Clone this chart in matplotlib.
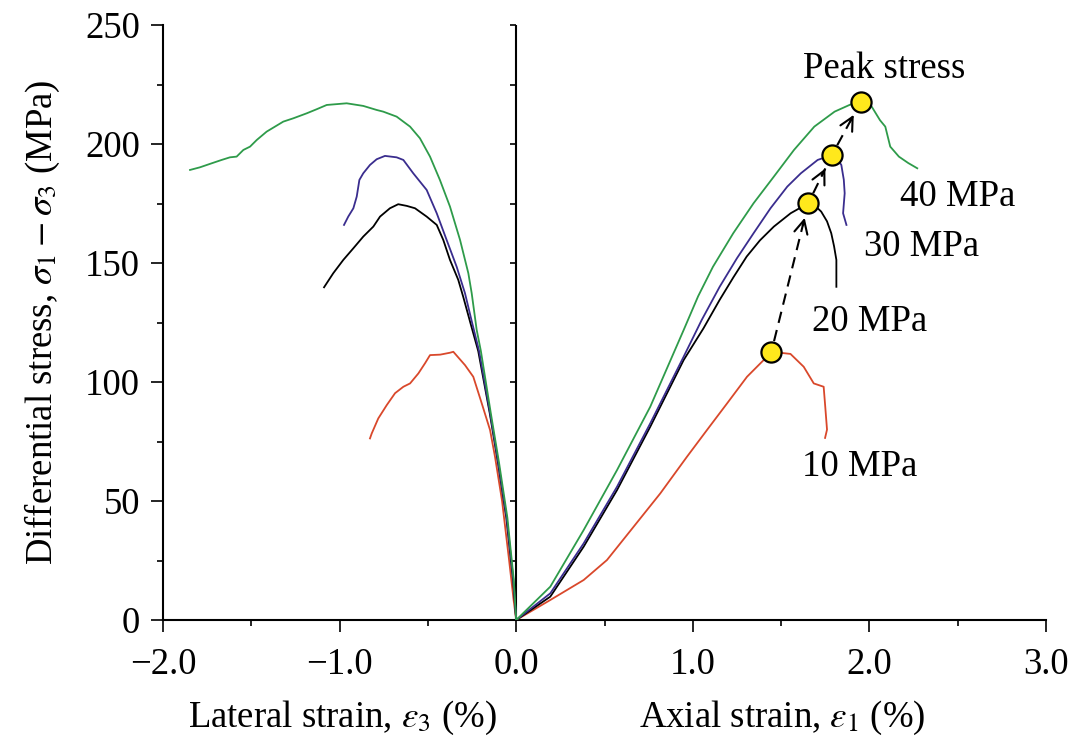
import numpy as np
import matplotlib
matplotlib.use("Agg")
import matplotlib.pyplot as plt

plt.rcParams['font.family'] = ['Liberation Serif', 'DejaVu Serif']
plt.rcParams['mathtext.fontset'] = 'stix'

# ---------------- data (strain %, differential stress MPa) ----------------
# Lateral strain branch (negative strains)
lat_10_x = [0, -0.014, -0.04, -0.08, -0.120, -0.148, -0.195, -0.243, -0.290, -0.356, -0.375, -0.430, -0.488,
            -0.516, -0.554, -0.601, -0.639, -0.686, -0.733, -0.781, -0.818, -0.828]
lat_10_y = [0, 8, 25, 50, 68.6, 79.8, 91.0, 102.2, 107.1, 112.7, 112.3, 111.5, 111.3,
            107.9, 103.6, 99.4, 98.0, 95.3, 90.3, 84.7, 78.4, 76.3]

lat_20_x = [0, -0.018, -0.056, -0.103, -0.150, -0.215, -0.260, -0.300, -0.328, -0.375, -0.413, -0.450, -0.507,
            -0.573, -0.620, -0.668, -0.715, -0.771, -0.809, -0.866, -0.922, -0.979, -1.036, -1.088]
lat_20_y = [0, 17, 43, 66, 87, 113, 125, 135.8, 142.9, 151.3, 159.7, 166.0, 169.5,
            173.0, 174.0, 174.7, 173.0, 169.5, 165.3, 161.1, 156.2, 151.3, 145.7, 139.8]

lat_30_x = [0, -0.016, -0.054, -0.101, -0.148, -0.210, -0.250, -0.290, -0.337, -0.394, -0.450, -0.507, -0.583,
            -0.639, -0.677, -0.743, -0.790, -0.828, -0.866, -0.888, -0.903, -0.922, -0.951, -0.975]
lat_30_y = [0, 17, 43, 66, 87, 113, 125, 137.3, 148.4, 159.7, 170.9, 180.7, 187.7,
            193.3, 194.4, 195.0, 193.6, 191.2, 187.7, 184.9, 177.9, 173.0, 169.5, 166.0]

lat_40_x = [0, -0.014, -0.050, -0.097, -0.144, -0.200, -0.224, -0.252, -0.271, -0.318, -0.375, -0.432, -0.488,
            -0.545, -0.601, -0.677, -0.753, -0.790, -0.866, -0.960, -1.073, -1.130, -1.186, -1.262, -1.319,
            -1.366, -1.413, -1.469, -1.507, -1.545, -1.583, -1.621, -1.668, -1.724, -1.791, -1.847]
lat_40_y = [0, 17, 43, 66, 87, 113, 122, 137.3, 145.7, 159.7, 173.7, 184.9, 194.7,
            202.4, 207.3, 211.5, 213.6, 214.3, 216.0, 217.1, 216.4, 214.6, 212.9, 210.8, 209.4,
            207.3, 205.2, 201.7, 198.9, 197.5, 194.7, 194.4, 193.3, 191.9, 190.2, 189.1]

# Axial strain branch (positive strains)
ax_10_x = [0, 0.193, 0.382, 0.514, 0.665, 0.816, 0.967, 1.080, 1.194, 1.307, 1.401, 1.445,
           1.553, 1.628, 1.685, 1.741, 1.750, 1.760, 1.749]
ax_10_y = [0, 8.4, 16.8, 25.2, 39.2, 53.2, 68.6, 79.8, 91.0, 102.2, 109.2, 112.7,
           111.8, 106.4, 99.4, 98.0, 89.6, 80.0, 76.5]

ax_20_x = [0, 0.193, 0.382, 0.571, 0.759, 0.948, 1.060, 1.152, 1.230, 1.305, 1.380, 1.459, 1.554, 1.654,
           1.700, 1.727, 1.760, 1.784, 1.800, 1.813, 1.813]
ax_20_y = [0, 9.8, 30.8, 54.6, 81.2, 109.2, 122.5, 134.5, 144.0, 152.7, 159.5, 165.3, 170.9, 175.1,
           173.5, 171.6, 167.5, 162.5, 157.0, 151.3, 140.0]

ax_30_x = [0, 0.193, 0.382, 0.571, 0.759, 0.948, 1.050, 1.152, 1.250, 1.344, 1.440, 1.535, 1.612, 1.707, 1.788,
           1.820, 1.841, 1.855, 1.860, 1.851, 1.870]
ax_30_y = [0, 11.2, 32.2, 56.0, 82.6, 110.6, 126.0, 140.0, 152.0, 162.5, 173.0, 182.1, 187.7, 193.3, 195.4,
           193.5, 191.2, 185.0, 179.3, 170.9, 166.0]

ax_40_x = [0, 0.193, 0.382, 0.571, 0.759, 0.948, 1.030, 1.114, 1.229, 1.344, 1.459, 1.573, 1.688, 1.803,
           1.890, 1.952, 2.013, 2.060, 2.090, 2.118, 2.167, 2.220, 2.271]
ax_40_y = [0, 14.0, 37.8, 63.0, 89.6, 121.8, 136.0, 148.4, 162.5, 175.1, 186.3, 197.5, 207.3, 213.6,
           216.5, 217.8, 215.7, 210.0, 207.3, 198.9, 194.7, 192.0, 189.8]

peak_strain = [1.445, 1.654, 1.788, 1.952]
peak_stress = [112.7, 175.1, 195.4, 217.8]

pressure_labels = ["10 MPa", "20 MPa", "30 MPa", "40 MPa"]
x_ticks = [-2.0, -1.0, 0.0, 1.0, 2.0, 3.0]
x_ticklabels = ["\u22122.0", "\u22121.0", "0.0", "1.0", "2.0", "3.0"]
y_ticks = [0, 50, 100, 150, 200, 250]

colors = {"10": "#D9482B", "20": "#000000", "30": "#3A2D8E", "40": "#2E9B4A"}

FS = 26.5

# ---------------- figure ----------------
fig = plt.figure(figsize=(10.73, 7.44), dpi=100)
ax = fig.add_axes([163 / 1073, 1 - 620 / 744, (1046 - 163) / 1073, (620 - 25) / 744])
ax.set_xlim(-2.0, 3.0)
ax.set_ylim(0, 250)

lw = 1.3
series = [("10", lat_10_x, lat_10_y, ax_10_x, ax_10_y),
          ("20", lat_20_x, lat_20_y, ax_20_x, ax_20_y),
          ("30", lat_30_x, lat_30_y, ax_30_x, ax_30_y),
          ("40", lat_40_x, lat_40_y, ax_40_x, ax_40_y)]
for key, lx, ly, axx, axy in series:
    ax.plot(lx, ly, color=colors[key], lw=lw, zorder=3, solid_joinstyle='round')
    ax.plot(axx, axy, color=colors[key], lw=lw, zorder=3, solid_joinstyle='round')

# center vertical line with short left-pointing ticks
ax.axvline(0, color='black', lw=1.5, zorder=2)
center_ticks = np.arange(25, 251, 25)
ax.plot(np.zeros_like(center_ticks), center_ticks, ls='none', marker=0,
        ms=4.5, mew=1.2, color='black', zorder=2, clip_on=False)

# spines / ticks
for s in ['top', 'right']:
    ax.spines[s].set_visible(False)
for s in ['left', 'bottom']:
    ax.spines[s].set_linewidth(1.5)

ax.set_xticks(x_ticks)
ax.set_xticklabels(x_ticklabels)
ax.set_xticks(np.arange(-1.5, 3.0, 1.0), minor=True)
ax.set_yticks(y_ticks)
ax.set_yticks(np.arange(25, 250, 50), minor=True)
ax.tick_params(axis='both', which='major', direction='out', length=8.5, width=1.2,
               labelsize=FS)
ax.tick_params(axis='both', which='minor', direction='out', length=4.5, width=1.2)
ax.tick_params(axis='x', which='major', pad=11)
ax.tick_params(axis='y', which='major', pad=8)

# peak stress markers with dashed arrows
fig.canvas.draw()
trans = ax.transData
inv = trans.inverted()
r_px = 10.0
for i in range(len(peak_strain) - 1):
    p0 = trans.transform((peak_strain[i], peak_stress[i]))
    p1 = trans.transform((peak_strain[i + 1], peak_stress[i + 1]))
    d = p1 - p0
    u = d / np.hypot(*d)
    start = p0 + u * (r_px + 1)
    end = p1 - u * (r_px + 5)
    s_d = inv.transform(start)
    e_d = inv.transform(end)
    ax.plot([s_d[0], e_d[0]], [s_d[1], e_d[1]], color='black', lw=1.5,
            dashes=(5.5, 3.5), zorder=4)
    h_d = inv.transform(end - u * 8)
    ax.annotate('', xy=tuple(e_d), xytext=tuple(h_d),
                arrowprops=dict(arrowstyle='->', color='black', lw=1.5,
                                mutation_scale=24, shrinkA=0, shrinkB=0),
                zorder=5)

ax.plot(peak_strain, peak_stress, ls='none', marker='o', ms=14.5,
        mfc='#FFE81C', mec='black', mew=1.6, zorder=6)

# annotations
ax.text(2.083, 231.5, "Peak stress", fontsize=FS, ha='center', va='center')
label_x = [1.946, 2.003, 2.297, 2.501]
label_y = [64.3, 125.2, 156.7, 177.7]
for lab, lx, ly in zip(pressure_labels, label_x, label_y):
    ax.text(lx, ly, lab, fontsize=FS, ha='center', va='center')

# axis labels
fig.text(42 / 1073, 1 - 322 / 744, r"Differential stress, $\sigma_1 - \sigma_3$ (MPa)",
         rotation=90, ha='center', va='center', fontsize=FS)
fig.text(342 / 1073, 1 - 718 / 744, r"Lateral strain, $\varepsilon_3$ (%)",
         ha='center', va='center', fontsize=FS)
fig.text(782 / 1073, 1 - 718 / 744, r"Axial strain, $\varepsilon_1$ (%)",
         ha='center', va='center', fontsize=FS)

fig.savefig("out.png", dpi=100)
